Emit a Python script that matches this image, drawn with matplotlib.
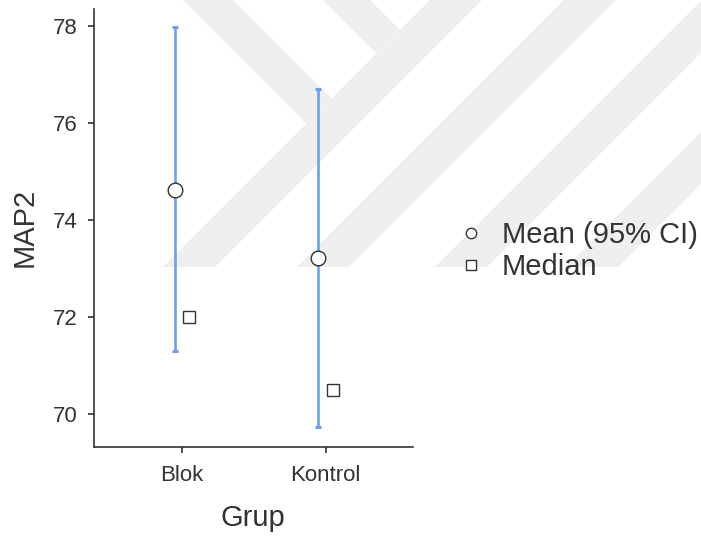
import matplotlib
matplotlib.use("Agg")
import matplotlib.pyplot as plt
from matplotlib.lines import Line2D
from matplotlib.patches import Polygon

plt.rcParams['font.family'] = ['Liberation Sans', 'DejaVu Sans']

# ---- data ----
groups = ["Blok", "Kontrol"]
means = [74.62, 73.22]
ci_low = [71.30, 69.74]
ci_high = [77.98, 76.70]
medians = [72.0, 70.5]
yticks = [70, 72, 74, 76, 78]
xlabel = "Grup"
ylabel = "MAP2"
legend_labels = ["Mean (95% CI)", "Median"]

W, H = 701, 540
fig = plt.figure(figsize=(W / 100, H / 100), dpi=100)

# ---- background watermark (decorative, figure pixel coords) ----
def wm(pts):
    return [(x / W, 1 - y / H) for x, y in pts]

wm_shapes = [
    [(163, 267), (215, 267), (482, 0), (430, 0)],
    [(183, 0), (233, 0), (331.5, 98.5), (306.5, 123.5)],
    [(323, 0), (370, 0), (400, 30), (376.5, 53.5)],
    [(297, 267), (349, 267), (616, 0), (564, 0)],
    [(435, 267), (487, 267), (754, 0), (702, 0)],
    [(566, 267), (618, 267), (885, 0), (833, 0)],
]
for s in wm_shapes:
    fig.patches.append(Polygon(wm(s), closed=True, transform=fig.transFigure,
                               facecolor="#efefef", edgecolor="none", zorder=-5))

ax = fig.add_axes([94 / W, 1 - 446.7 / H, (412.7 - 94) / W, (446.7 - 9) / H])
ax.set_facecolor("none")
ax.set_zorder(2)

x = list(range(len(groups)))
dodge = 0.05
xm = [i - dodge for i in x]
xd = [i + dodge for i in x]
err = [[m - lo for m, lo in zip(means, ci_low)], [hi - m for m, hi in zip(means, ci_high)]]

blue = "#6f9fe8"
grey = "#333333"
ax.errorbar(xm, means, yerr=err, fmt="none", ecolor=blue, elinewidth=1.9,
            capsize=2.2, capthick=2.2, zorder=2)
ax.plot(xm, means, linestyle="none", marker="o", markersize=10.5,
        markerfacecolor="white", markeredgecolor=grey, markeredgewidth=1.0, zorder=3)
ax.plot(xd, medians, linestyle="none", marker="s", markersize=8.5,
        markerfacecolor="white", markeredgecolor=grey, markeredgewidth=1.0, zorder=3)

ax.set_xlim(-0.615, 1.608)
ax.set_ylim(69.33, 78.35)
ax.set_xticks(x)
ax.set_xticklabels(groups)
ax.set_yticks(yticks)

for side in ["top", "right"]:
    ax.spines[side].set_visible(False)
for side in ["left", "bottom"]:
    ax.spines[side].set_color(grey)
    ax.spines[side].set_linewidth(1.2)

ax.tick_params(axis="both", colors=grey, labelcolor=grey, labelsize=16,
               length=4, width=1.2, direction="out")
ax.tick_params(axis="y", pad=8)
ax.tick_params(axis="x", pad=9)

ax.set_xlabel(xlabel, fontsize=21, color=grey, labelpad=13)
ax.set_ylabel(ylabel, fontsize=21, color=grey, labelpad=10)

handles = [
    Line2D([], [], linestyle="none", marker="o", markersize=7.5,
           markerfacecolor="white", markeredgecolor=grey, markeredgewidth=1.0),
    Line2D([], [], linestyle="none", marker="s", markersize=6.5,
           markerfacecolor="white", markeredgecolor=grey, markeredgewidth=1.0),
]
leg = fig.legend(handles, legend_labels, loc="center left",
                 bbox_to_anchor=(458 / W, 1 - 251 / H), frameon=False,
                 fontsize=21, labelspacing=0.12, handlelength=0.9,
                 handletextpad=0.6, borderpad=0, borderaxespad=0)
for t in leg.get_texts():
    t.set_color(grey)

fig.savefig("out.png", dpi=100, facecolor="white")
